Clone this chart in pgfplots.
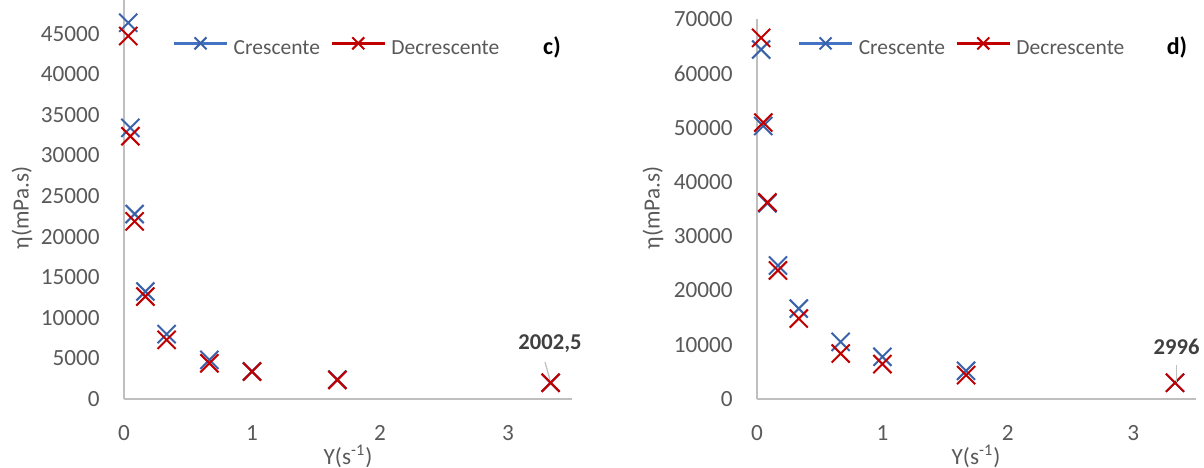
\documentclass[border=0pt]{standalone}
\usepackage{pgfplots}
\pgfplotsset{compat=1.18}
\usepackage{fontspec}
\setmainfont{Carlito}
\definecolor{txtgray}{HTML}{595959}
\definecolor{lblgray}{HTML}{404040}
\definecolor{axgray}{HTML}{BFBFBF}
\definecolor{mblue}{HTML}{3A62AA}
\definecolor{lblue}{HTML}{4472C4}
\definecolor{mred}{HTML}{C00000}
\pgfplotsset{
  common/.style={
    scale only axis,
    anchor=south west,
    xmin=0, xmax=3.5, ymin=0,
    axis lines*=left,
    axis line style={axgray, line width=0.75pt},
    major tick length=0pt,
    xtick={0,1,2,3},
    scaled ticks=false,
    tick label style={font=\fontsize{11.6}{13}\selectfont, text=txtgray, inner sep=0pt},
    yticklabel style={anchor=east, xshift=-12pt},
    xticklabel style={anchor=north, yshift=-13pt},
    /pgf/number format/assume math mode=true,
    /pgf/number format/1000 sep={},
    clip=false,
    legend columns=2,
    legend cell align=left,
    legend style={draw=none, fill=none, inner sep=0pt, anchor=west,
      font=\fontsize{10.75}{13}\selectfont, text=txtgray,
      nodes={inner sep=0pt},
      /tikz/every odd column/.append style={column sep=2.5pt},
      /tikz/every even column/.append style={column sep=5pt}},
  },
  legblue/.style={legend image code/.code={
    \draw[lblue, line width=1.7pt] (0pt,3pt) -- (26.5pt,3pt);
    \draw[mblue, line width=1pt] (10.25pt,0pt) -- (16.25pt,6pt) (10.25pt,6pt) -- (16.25pt,0pt);
  }},
  legred/.style={legend image code/.code={
    \draw[mred, line width=1.7pt] (0pt,3pt) -- (26.5pt,3pt);
    \draw[mred, line width=1pt] (10.25pt,0pt) -- (16.25pt,6pt) (10.25pt,6pt) -- (16.25pt,0pt);
  }},
  cres/.style={only marks, mark=x, mark size=6.4pt, mblue, mark options={line width=1pt}, legblue},
  decr/.style={only marks, mark=x, mark size=6.4pt, mred, mark options={line width=1pt}, legred},
}
\begin{document}
\begin{tikzpicture}
\path[use as bounding box] (0,0) rectangle (602pt,233.5pt);
% Panel c
\begin{axis}[common, at={(62pt,34pt)}, width=224pt, height=199.5pt, ymax=49140,
  ytick={0,5000,...,45000},
  legend style={at={(rel axis cs:0.107,0.882)}}]
\addplot[cres] coordinates {(0.033,46340) (0.05,33390) (0.083,22780) (0.167,13240) (0.333,7980) (0.667,4810) (1,3400) (1.667,2400) (3.333,2002.5)};
\addlegendentry{Crescente}
\addplot[decr] coordinates {(0.033,44700) (0.05,32360) (0.083,21880) (0.167,12620) (0.333,7280) (0.667,4400) (1,3370) (1.667,2340) (3.333,2002.5)};
\addlegendentry{Decrescente}
\end{axis}
% Panel d
\begin{axis}[common, at={(378.5pt,34pt)}, width=219.5pt, height=190pt, ymax=70000,
  ytick={0,10000,...,70000},
  legend style={at={(rel axis cs:0.091,0.926)}}]
\addplot[cres] coordinates {(0.033,64380) (0.05,50300) (0.083,36050) (0.167,24600) (0.333,16650) (0.667,10530) (1,7770) (1.667,5200) (3.333,2996)};
\addlegendentry{Crescente}
\addplot[decr] coordinates {(0.033,66520) (0.05,50920) (0.083,36230) (0.167,23680) (0.333,14810) (0.667,8380) (1,6430) (1.667,4410) (3.333,2996)};
\addlegendentry{Decrescente}
\end{axis}
% axis titles
\node[rotate=90, text=txtgray, font=\fontsize{11.6}{13}\selectfont] at (11pt,129.5pt) {η(mPa.s)};
\node[rotate=90, text=txtgray, font=\fontsize{11.6}{13}\selectfont] at (326.5pt,129.5pt) {η(mPa.s)};
\node[anchor=base, text=txtgray, font=\fontsize{11.6}{13}\selectfont, inner sep=0pt] at (174pt,1.5pt) {Υ(s\textsuperscript{-1})};
\node[anchor=base, text=txtgray, font=\fontsize{11.6}{13}\selectfont, inner sep=0pt] at (488pt,1.5pt) {Υ(s\textsuperscript{-1})};
% panel letters
\node[font=\bfseries\fontsize{12}{14}\selectfont] at (276pt,210pt) {c)};
\node[font=\bfseries\fontsize{12}{14}\selectfont] at (588.5pt,210pt) {d)};
% data labels
\node[font=\bfseries\fontsize{11.3}{13}\selectfont, text=lblgray, inner sep=0pt] at (275pt,61.5pt) {2002,5};
\draw[axgray, line width=0.6pt] (272.5pt,52.5pt) -- (275pt,43.5pt);
\node[font=\bfseries\fontsize{11.3}{13}\selectfont, text=lblgray, inner sep=0pt] at (588.3pt,60.2pt) {2996};
\draw[axgray, line width=0.6pt] (588.3pt,51pt) -- (588.3pt,42.6pt);
\end{tikzpicture}
\end{document}
